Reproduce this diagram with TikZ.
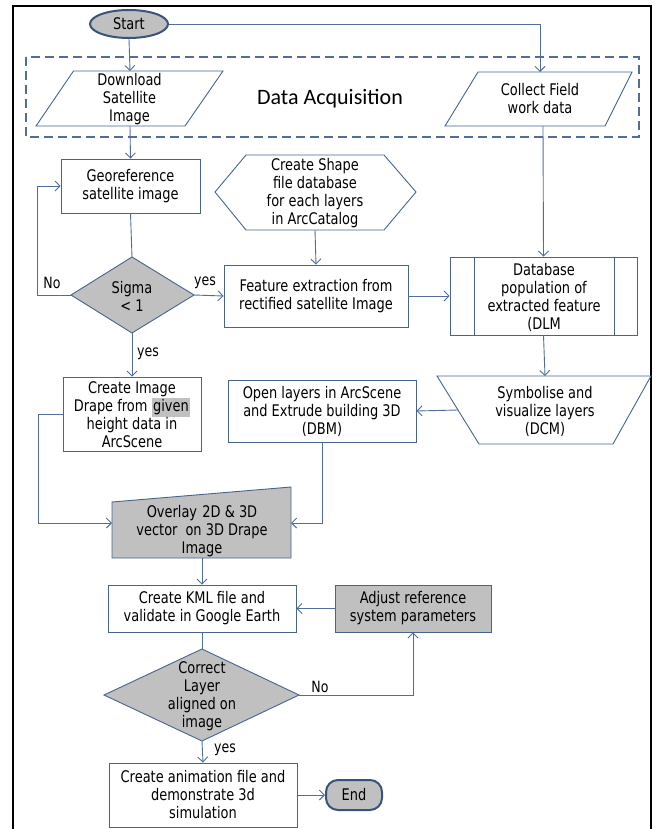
\documentclass[tikz,border=0pt]{standalone}
\usepackage{fontspec}
\setmainfont[FakeStretch=0.9]{DejaVu Sans Condensed}
\newfontfamily\dafont{Carlito}
\usetikzlibrary{arrows.meta,shapes.geometric,calc}
\definecolor{lnc}{RGB}{79,110,158}
\definecolor{bdc}{RGB}{70,100,140}
\definecolor{termb}{RGB}{56,84,120}
\definecolor{gfill}{RGB}{192,192,192}
\tikzset{
  conn/.style={draw=lnc, line width=0.9pt},
  arr/.style={conn, -{Straight Barb[length=5pt,width=10pt]}},
  boxst/.style={draw=bdc, line width=0.9pt, rectangle, align=center, font=\fontsize{16}{18}\selectfont, inner sep=0pt},
  txt/.style={align=center, font=\fontsize{16}{18}\selectfont, inner sep=0pt},
  shp/.style={draw=bdc, line width=0.9pt},
  term/.style={draw=termb, line width=2pt, fill=gfill, font=\fontsize{16}{18}\selectfont, inner sep=0pt},
  lbl/.style={font=\fontsize{15.5}{17}\selectfont, inner sep=0pt}
}
\begin{document}
\begin{tikzpicture}[x=1pt,y=-1pt]
\useasboundingbox (0,0) rectangle (656,829);
% outer frame
\draw[line width=1.4pt] (13,830) -- (13,6) -- (651,6) -- (651,830);
% dashed acquisition box
\draw[draw=lnc, line width=1.5pt, dash pattern=on 9pt off 5pt] (26,57) rectangle (639,137);
\node[font=\dafont\fontsize{22}{24}\selectfont, inner sep=0pt] (da) at (330,99) {Data Acquisition};

% Start
\node[term, ellipse, minimum width=78pt, minimum height=28pt] (start) at (129,24) {Start};

% Download parallelogram
\draw[shp] (73.5,71) -- (223,71) -- (185,126) -- (36,126) -- cycle;
\node[txt] (dl) at (129.5,99.5) {Download\\Satellite\\Image};
\coordinate (dltop) at (130,71);
\coordinate (dlbot) at (130,126);

% Collect parallelogram
\draw[shp] (478,72) -- (632,72) -- (605,126) -- (445,126) -- cycle;
\node[txt] (col) at (540,99) {Collect Field\\work data};
\coordinate (coltop) at (540,72);
\coordinate (colbot) at (543,126);

% Georeference
\node[boxst, minimum width=139pt, minimum height=54pt] (geo) at (130.5,186) {Georeference\\satellite image};

% Sigma diamond
\draw[shp, fill=gfill] (132,257) -- (194,295) -- (132,333) -- (71,295) -- cycle;
\node[txt] (sig) at (132,296) {Sigma\\< 1};
\coordinate (sigN) at (132,257);
\coordinate (sigS) at (132,333);
\coordinate (sigW) at (71,295);
\coordinate (sigE) at (194,295);

% Hexagon
\draw[shp] (215,192) -- (246,155) -- (384,155) -- (416,192) -- (384,230) -- (246,230) -- cycle;
\node[txt] (hex) at (315,193) {Create Shape\\file database\\for each layers\\in ArcCatalog};
\coordinate (hexS) at (315,230);

% Feature extraction
\node[boxst, minimum width=184pt, minimum height=62pt] (feat) at (316,296) {Feature extraction from\\rectified satellite Image};

% Database (predefined process)
\node[boxst, minimum width=187pt, minimum height=78pt] (db) at (543.5,296) {};
\draw[shp] (474,257) -- (474,335) (614,257) -- (614,335);
\node[txt] (dbt) at (544,297) {Database\\population of\\extracted feature\\(DLM};

% Create Image Drape
\node[boxst, minimum width=138pt, minimum height=74pt] (drape) at (132,414) {};
\node[txt] (drt) at (132,415) {Create Image\\Drape from {\setlength{\fboxsep}{1.5pt}\colorbox{gfill}{given}}\\height data in\\ArcScene};

% Open layers
\node[boxst, minimum width=188pt, minimum height=62pt] (open) at (322,411) {Open layers in ArcScene\\and Extrude building 3D\\(DBM)};

% Symbolise trapezoid
\draw[shp] (437,376) -- (651,376) -- (613,444) -- (479,444) -- cycle;
\node[txt] (sym) at (545,411) {Symbolise and\\visualize layers\\(DCM)};
\coordinate (symtop) at (545,376);
\coordinate (symW) at (458,410);

% Overlay (manual input)
\draw[shp, fill=gfill] (112,502) -- (291,487) -- (291,558) -- (112,558) -- cycle;
\node[txt] (ov) at (202,531) {Overlay\,\,2D \& 3D\\vector\enspace on 3D Drape\\Image};
\coordinate (ovW) at (112,523);
\coordinate (ovE) at (291,523);
\coordinate (ovS) at (202,558);

% KML
\node[boxst, minimum width=188pt, minimum height=47pt] (kml) at (202,608.5) {Create KML file and\\validate in Google Earth};

% Adjust
\node[boxst, fill=gfill, minimum width=156pt, minimum height=47pt] (adj) at (413,608.5) {Adjust reference\\system parameters};

% Correct diamond
\draw[shp, fill=gfill] (202,649) -- (299,695) -- (202,741) -- (104,695) -- cycle;
\node[txt] (cor) at (202,696) {Correct\\Layer\\aligned on\\image};
\coordinate (corN) at (202,649);
\coordinate (corS) at (202,741);
\coordinate (corE) at (299,695);

% Final
\node[boxst, minimum width=188pt, minimum height=64pt] (fin) at (203,795) {Create animation file and\\demonstrate 3d\\simulation};

% End
\node[term, rounded corners=12pt, rectangle, minimum width=56pt, minimum height=30pt] (end) at (354,795) {End};

% connectors
\draw[arr] (start.south) -- (dltop);
\draw[arr] (start.east) -| (coltop);
\draw[arr] (dlbot) -- (geo.north);
\draw[conn] (geo.south) -- (sigN);
\draw[arr] (sigW) -- (37,295) |- (geo.west);
\node[lbl] (no1) at (52,283) {No};
\draw[arr] (sigE) -- (feat.west);
\node[lbl] (yes1) at (205,283) {yes};
\draw[arr] (hexS) -- (feat.north);
\draw[arr] (feat.east) -- (db.west);
\draw[arr] (colbot) -- (db.north);
\draw[arr] (sigS) -- (drape.north);
\node[lbl] (yes2) at (148,354) {yes};
\draw[arr] (db.south) -- (symtop);
\draw[arr] (symW) -- (open.east);
\draw[arr] (drape.west) -- (38,414) |- (ovW);
\draw[arr] (open.south) |- (ovE);
\draw[arr] (ovS) -- (kml.north);
\draw[arr] (adj.west) -- (kml.east);
\draw[conn] (kml.south) -- (corN);
\draw[arr] (corE) -| (adj.south);
\node[lbl] (no2) at (320,687) {No};
\draw[arr] (corS) -- (fin.north);
\node[lbl] (yes3) at (225,750) {yes};
\draw[arr] (fin.east) -- (end.west);
\end{tikzpicture}
\end{document}
